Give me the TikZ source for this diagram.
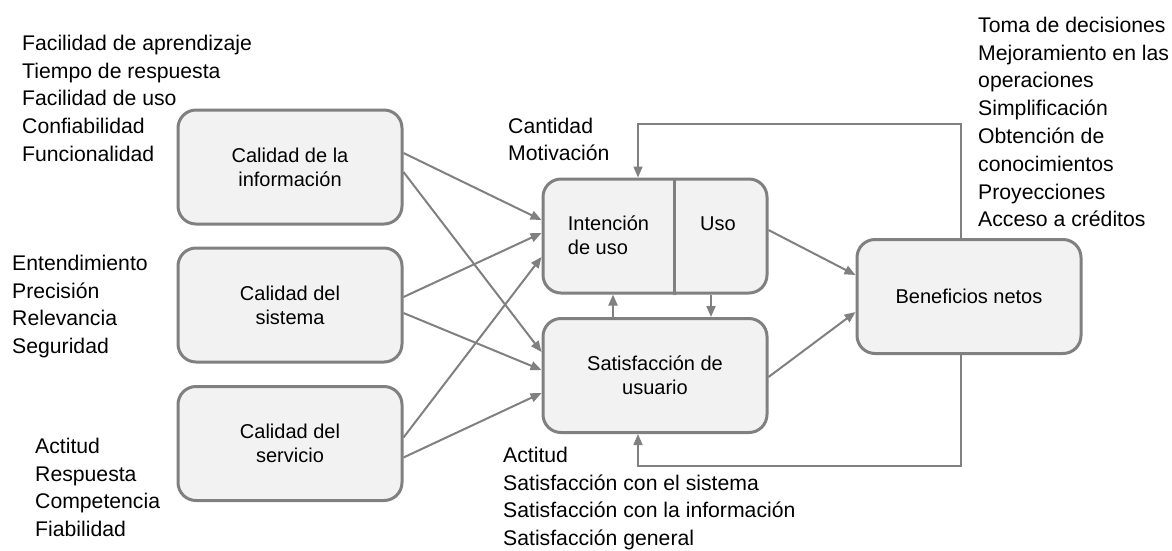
\documentclass[tikz,border=0pt]{standalone}
\usepackage{fontspec}
\setmainfont{Liberation Sans}
\usetikzlibrary{arrows.meta,positioning}

\definecolor{linea}{RGB}{128,128,128}
\definecolor{fondo}{RGB}{242,242,242}

\tikzset{
  caja/.style={draw=linea, line width=3pt, fill=fondo, rounded corners=18pt,
    minimum width=224pt, minimum height=114pt, align=center,
    font=\fontsize{20}{24}\selectfont},
  lista/.style={anchor=north west, align=left, inner sep=0pt,
    font=\fontsize{21.2}{27.8}\selectfont},
  flecha/.style={draw=linea, line width=2pt, -{Triangle[length=11pt,width=9pt]}},
  retro/.style={draw=linea, line width=1.5pt, -{Triangle[length=11pt,width=9pt]}}
}

\begin{document}
\begin{tikzpicture}[x=1pt, y=-1pt]
  \useasboundingbox (0,0) rectangle (1172,550);

  % cajas
  \node[caja] (cinfo) at (290,167) {Calidad de la\\información};
  \node[caja] (csist) at (290,305) {Calidad del\\sistema};
  \node[caja] (cserv) at (290,443.5) {Calidad del\\servicio};
  \node[caja] (intuso) at (655,236) {};
  \node[caja] (satis) at (655,375.5) {Satisfacción de\\usuario};
  \node[caja] (benef) at (969,296.5) {Beneficios netos};

  % intención | uso
  \draw[draw=linea, line width=3pt] ([xshift=19pt]intuso.north) -- ([xshift=19pt]intuso.south);
  \node[align=left, font=\fontsize{20}{24}\selectfont] (inten) at (608.5,235) {Intención\\de uso};
  \node[anchor=base, font=\fontsize{20}{24}\selectfont] (uso) at (718,230) {Uso};

  % dimensiones
  \draw[flecha] ([yshift=14pt]cinfo.east) -- ([yshift=16pt]intuso.west);
  \draw[flecha] ([yshift=-5pt]cinfo.east) -- ([yshift=23.5pt]satis.west);
  \draw[flecha] ([yshift=8pt]csist.east) -- ([yshift=3pt]intuso.west);
  \draw[flecha] ([yshift=-8pt]csist.east) -- ([yshift=5.5pt]satis.west);
  \draw[flecha] ([yshift=6pt]cserv.east) -- ([yshift=-21pt]intuso.west);
  \draw[flecha] ([yshift=-14pt]cserv.east) -- ([yshift=-17.5pt]satis.west);

  \draw[flecha] ([xshift=-42pt]satis.north) -- ([xshift=-42pt]intuso.south);
  \draw[flecha] ([xshift=56pt]intuso.south) -- ([xshift=56pt]satis.north);

  \draw[flecha] ([yshift=6pt]intuso.east) -- ([yshift=21.5pt]benef.west);
  \draw[flecha] ([yshift=-1.5pt]satis.east) -- ([yshift=-15.5pt]benef.west);

  % retroalimentación
  \coordinate (arriba) at (800,124);
  \coordinate (abajo) at (800,466);
  \draw[retro] ([xshift=-8pt]benef.north) |- (arriba) -| ([xshift=-17pt]intuso.north);
  \draw[retro] ([xshift=-8pt]benef.south) |- (abajo) -| ([xshift=-17pt]satis.south);

  % listas
  \node[lista] (lista1) at (22,34.8) {Facilidad de aprendizaje\\Tiempo de respuesta\\Facilidad de uso\\Confiabilidad\\Funcionalidad};
  \node[lista] (lista2) at (12,254.8) {Entendimiento\\Precisión\\Relevancia\\Seguridad};
  \node[lista] (lista3) at (35,437.8) {Actitud\\Respuesta\\Competencia\\Fiabilidad};
  \node[lista] (lista4) at (508,117.5) {Cantidad\\Motivación};
  \node[lista] (lista5) at (503,446.8) {Actitud\\Satisfacción con el sistema\\Satisfacción con la información\\Satisfacción general};
  \node[lista] (lista6) at (978,16.8) {Toma de decisiones\\Mejoramiento en las\\operaciones\\Simplificación\\Obtención de\\conocimientos\\Proyecciones\\Acceso a créditos};
\end{tikzpicture}
\end{document}
